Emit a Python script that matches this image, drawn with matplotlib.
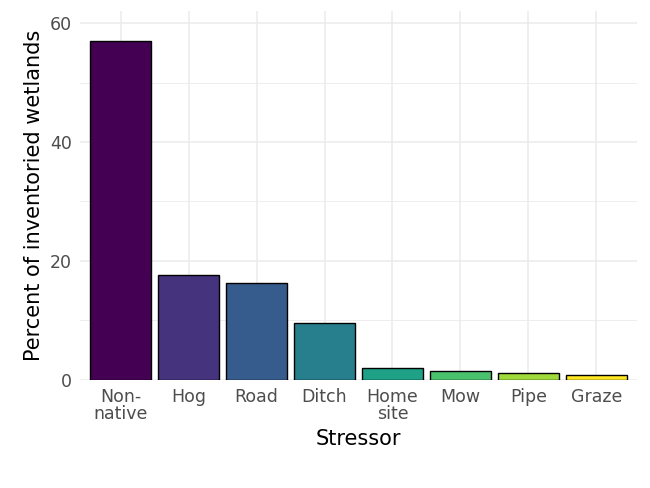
import matplotlib
matplotlib.use("Agg")
import matplotlib.pyplot as plt

categories = ["Non-\nnative", "Hog", "Road", "Ditch", "Home\nsite", "Mow", "Pipe", "Graze"]
values = [57.0, 17.6, 16.2, 9.6, 1.9, 1.5, 1.2, 0.8]
colors = ["#440154", "#46337E", "#365C8D", "#277F8E", "#1FA187", "#4AC16D", "#9FDA3A", "#FDE725"]

fig = plt.figure(figsize=(6.5, 4.88), dpi=100)
ax = fig.add_axes([0.123, 0.222, 0.857, 0.755])
x = range(len(categories))
ax.bar(x, values, width=0.9, color=colors, edgecolor="black", linewidth=1.0, zorder=3)
ax.set_xlim(-0.6, len(categories) - 0.4)
ax.set_ylim(-0.5 * 0 - 60 * 0.045 * 0 , 62)
ax.set_ylim(0 - 62 * 0.0, 62)
ax.set_ylim(-0.0, 62)
ax.set_yticks([0, 20, 40, 60])
ax.set_yticks([10, 30, 50], minor=True)
ax.set_xticks(list(x))
ax.set_xticklabels(categories, fontsize=12.5, color="#4d4d4d", linespacing=0.95)
ax.tick_params(axis="y", labelsize=12.5, labelcolor="#4d4d4d")
ax.tick_params(length=0, which="both", pad=6)
for s in ax.spines.values():
    s.set_visible(False)
ax.grid(True, which="major", color="#ebebeb", linewidth=1.1, zorder=0)
ax.grid(True, which="minor", axis="y", color="#ebebeb", linewidth=0.6, zorder=0)
ax.set_xlabel("Stressor", fontsize=15, labelpad=4)
ax.set_ylabel("Percent of inventoried wetlands", fontsize=15)
fig.savefig("out.png", dpi=100)
